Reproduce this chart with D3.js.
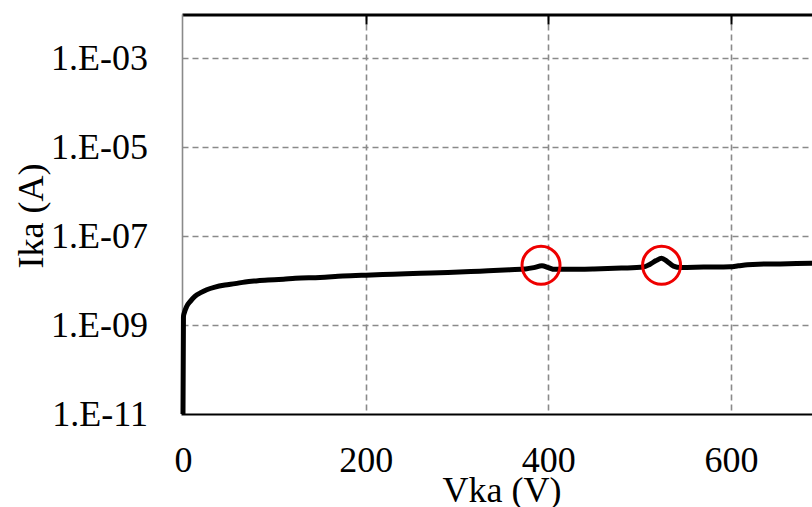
<!DOCTYPE html>
<html>
<head>
<meta charset="utf-8">
<script src="https://cdn.jsdelivr.net/npm/d3@7"></script>
<style>
  html, body { margin: 0; padding: 0; background: #fff; overflow: hidden; }
  svg { display: block; }
  text { font-family: "Liberation Serif", "Times New Roman", "DejaVu Serif", serif; fill: #000; }
</style>
</head>
<body>
<svg id="chart" width="812" height="507"></svg>
<script>
// ---- data ----
const voltage = [0, 0.5, 1.5, 4, 8, 13, 20, 26, 35, 46, 57, 68, 80, 93, 110, 123, 150, 175, 200, 230, 260, 290, 325, 358, 375, 384, 393, 400, 407, 420, 450, 480, 504, 511, 518, 524, 530, 537, 545, 570, 599, 608, 618, 630, 654, 688, 720];
const current = [1e-11, 1.55e-9, 1.9e-9, 2.6e-9, 3.4e-9, 4.4e-9, 5.4e-9, 6.2e-9, 7.1e-9, 7.9e-9, 8.5e-9, 9.3e-9, 9.8e-9, 1.02e-8, 1.07e-8, 1.12e-8, 1.17e-8, 1.26e-8, 1.32e-8, 1.38e-8, 1.45e-8, 1.51e-8, 1.62e-8, 1.74e-8, 1.82e-8, 1.95e-8, 2.14e-8, 1.95e-8, 1.78e-8, 1.78e-8, 1.82e-8, 1.9e-8, 2.0e-8, 2.3e-8, 2.8e-8, 3.16e-8, 2.7e-8, 2.1e-8, 1.95e-8, 2.0e-8, 2.04e-8, 2.14e-8, 2.26e-8, 2.33e-8, 2.36e-8, 2.45e-8, 2.5e-8];
const xTicks = [0, 200, 400, 600, 800];
const yTicks = [1e-11, 1e-9, 1e-7, 1e-5, 1e-3];
const yTickLabels = ["1.E-11", "1.E-09", "1.E-07", "1.E-05", "1.E-03"];
const markV = [392, 524];
const markI = [2.2e-8, 2.2e-8];
const xTitle = "Vka (V)";
const yTitle = "Ika (A)";

// ---- layout ----
const plotLeft = 182.5, plotBottom = 414, plotTop = 14.5;
const svg = d3.select("#chart");
const x = d3.scaleLinear().domain([0, 800]).range([183, 183 + 800 * 0.91333]);
const y = d3.scaleLog().domain([1e-11, 1e-2]).range([414, 13.5]);
const plotRight = x(800);

// grid
const grid = svg.append("g");
grid.selectAll("line.h").data(yTicks.slice(1)).join("line")
  .attr("x1", plotLeft).attr("x2", plotRight)
  .attr("y1", d => Math.round(y(d)) + 0.5).attr("y2", d => Math.round(y(d)) + 0.5)
  .attr("stroke", "#8a8a8a").attr("stroke-width", 1.6).attr("stroke-dasharray", "6,4");
grid.selectAll("line.v").data(xTicks.slice(1)).join("line")
  .attr("x1", d => Math.round(x(d)) + 0.5).attr("x2", d => Math.round(x(d)) + 0.5)
  .attr("y1", plotTop).attr("y2", plotBottom)
  .attr("stroke", "#8a8a8a").attr("stroke-width", 1.6).attr("stroke-dasharray", "6,4");

// top ticks
svg.append("g").selectAll("line").data(xTicks.slice(1)).join("line")
  .attr("x1", d => Math.round(x(d)) + 0.5).attr("x2", d => Math.round(x(d)) + 0.5)
  .attr("y1", plotTop).attr("y2", plotTop + 10)
  .attr("stroke", "#000").attr("stroke-width", 2);

// frame
svg.append("line").attr("x1", plotLeft).attr("x2", plotRight).attr("y1", plotTop + 0.5).attr("y2", plotTop + 0.5)
  .attr("stroke", "#000").attr("stroke-width", 3);
svg.append("line").attr("x1", plotLeft).attr("x2", plotLeft).attr("y1", plotTop).attr("y2", plotBottom)
  .attr("stroke", "#8a8a8a").attr("stroke-width", 1.6);
svg.append("line").attr("x1", plotLeft - 1).attr("x2", plotRight).attr("y1", plotBottom + 0.5).attr("y2", plotBottom + 0.5)
  .attr("stroke", "#000").attr("stroke-width", 2);

// x axis labels
const xAxis = d3.axisBottom(x).tickValues(xTicks.slice(0, 4)).tickSize(0).tickPadding(0).tickFormat(d3.format("d"));
const gx = svg.append("g").attr("transform", `translate(0,${plotBottom})`).call(xAxis);
gx.select(".domain").remove();
gx.attr("font-family", null);
gx.selectAll("text").attr("font-size", 36).attr("dy", null).attr("y", 58).attr("fill", "#000");

// y axis labels
const yAxis = d3.axisLeft(y).tickValues(yTicks).tickSize(0).tickPadding(0)
  .tickFormat((d, i) => yTickLabels[i]);
const gy = svg.append("g").attr("transform", `translate(148,0)`).call(yAxis);
gy.select(".domain").remove();
gy.attr("font-family", null);
gy.selectAll("text").attr("font-size", 36).attr("x", 0).attr("dy", "0.33em").attr("fill", "#000");

// axis titles
svg.append("text").attr("x", 502).attr("y", 502).attr("text-anchor", "middle")
  .attr("font-size", 36).text(xTitle);
svg.append("text").attr("transform", "translate(43,216) rotate(-90)").attr("text-anchor", "middle")
  .attr("font-size", 36).text(yTitle);

// curve
const pts = voltage.map((v, i) => [v, current[i]]);
const line = d3.line().x(d => x(d[0])).y(d => y(d[1])).curve(d3.curveMonotoneX);
svg.append("path").datum(pts).attr("d", line)
  .attr("fill", "none").attr("stroke", "#000").attr("stroke-width", 5)
  .attr("stroke-linejoin", "round").attr("stroke-linecap", "butt");

// red circle annotations
svg.append("g").selectAll("circle").data(markV.map((v, i) => [v, markI[i]])).join("circle")
  .attr("cx", d => x(d[0])).attr("cy", d => y(d[1])).attr("r", 19)
  .attr("fill", "none").attr("stroke", "#ee0000").attr("stroke-width", 3);
</script>
</body>
</html>
